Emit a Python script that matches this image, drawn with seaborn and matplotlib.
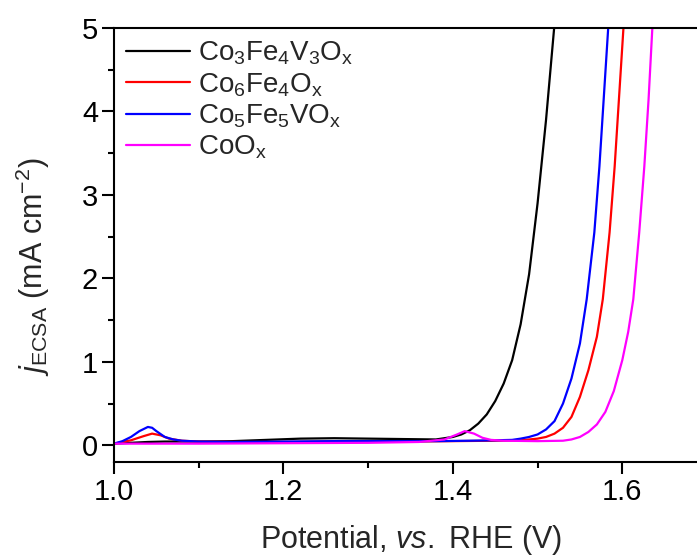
import numpy as np
import pandas as pd
import matplotlib
matplotlib.use("Agg")
import matplotlib.pyplot as plt
from matplotlib.ticker import MultipleLocator
import seaborn as sns

# Linear sweep voltammetry, current normalised by ECSA
labels = [r"$\mathregular{Co_3Fe_4V_3O_x}$", r"$\mathregular{Co_6Fe_4O_x}$",
          r"$\mathregular{Co_5Fe_5VO_x}$", r"$\mathregular{CoO_x}$"]
colors = ["#000000", "#ff0000", "#0000ff", "#ff00ff"]

v_co3fe4v3 = [1.000, 1.020, 1.040, 1.060, 1.080, 1.100, 1.140, 1.180, 1.220, 1.260,
              1.300, 1.340, 1.380, 1.400, 1.410, 1.420, 1.430, 1.440, 1.450, 1.460,
              1.470, 1.480, 1.490, 1.500, 1.510, 1.520]
j_co3fe4v3 = [0.02, 0.03, 0.04, 0.045, 0.045, 0.045, 0.05, 0.065, 0.08, 0.085,
              0.08, 0.075, 0.07, 0.10, 0.13, 0.18, 0.26, 0.37, 0.53, 0.74,
              1.02, 1.45, 2.05, 2.90, 3.90, 5.05]

v_co6fe4 = [1.000, 1.020, 1.035, 1.045, 1.055, 1.065, 1.080, 1.100, 1.150, 1.200,
            1.250, 1.300, 1.350, 1.400, 1.450, 1.480, 1.500, 1.510, 1.520, 1.530,
            1.540, 1.550, 1.560, 1.570, 1.577, 1.585, 1.591, 1.596, 1.602]
j_co6fe4 = [0.02, 0.06, 0.11, 0.14, 0.12, 0.08, 0.055, 0.045, 0.04, 0.04,
            0.045, 0.045, 0.045, 0.05, 0.055, 0.06, 0.08, 0.10, 0.14, 0.21,
            0.34, 0.58, 0.90, 1.30, 1.75, 2.55, 3.34, 4.14, 5.10]

v_co5fe5v = [1.000, 1.010, 1.020, 1.030, 1.040, 1.045, 1.050, 1.060, 1.070, 1.080,
             1.100, 1.140, 1.200, 1.260, 1.320, 1.380, 1.420, 1.450, 1.470, 1.480,
             1.490, 1.500, 1.510, 1.520, 1.530, 1.540, 1.550, 1.558, 1.567, 1.573,
             1.578, 1.584]
j_co5fe5v = [0.02, 0.05, 0.10, 0.17, 0.22, 0.21, 0.17, 0.10, 0.07, 0.055,
             0.045, 0.04, 0.045, 0.05, 0.05, 0.05, 0.055, 0.06, 0.065, 0.08,
             0.10, 0.13, 0.19, 0.29, 0.50, 0.80, 1.22, 1.75, 2.55, 3.34,
             4.14, 5.10]

v_coo = [1.000, 1.100, 1.200, 1.300, 1.360, 1.390, 1.405, 1.414, 1.425, 1.435,
         1.445, 1.460, 1.500, 1.530, 1.540, 1.550, 1.560, 1.570, 1.580, 1.590,
         1.600, 1.607, 1.613, 1.620, 1.626, 1.631, 1.636]
j_coo = [0.02, 0.02, 0.025, 0.03, 0.04, 0.07, 0.13, 0.17, 0.14, 0.09,
         0.065, 0.055, 0.05, 0.055, 0.07, 0.10, 0.16, 0.25, 0.40, 0.65,
         1.02, 1.36, 1.75, 2.55, 3.34, 4.14, 5.10]

series = [(v_co3fe4v3, j_co3fe4v3), (v_co6fe4, j_co6fe4),
          (v_co5fe5v, j_co5fe5v), (v_coo, j_coo)]
df = pd.concat(
    [pd.DataFrame({"E": v, "j": j, "sample": lab}) for lab, (v, j) in zip(labels, series)],
    ignore_index=True,
)

sns.set_theme(style="ticks")
plt.rcParams["font.family"] = ["Liberation Sans", "DejaVu Sans"]
plt.rcParams["mathtext.fontset"] = "custom"
plt.rcParams["mathtext.rm"] = "Liberation Sans"
plt.rcParams["mathtext.it"] = "Liberation Sans:italic"
plt.rcParams["mathtext.bf"] = "Liberation Sans:bold"

fig = plt.figure(figsize=(6.97, 5.58), dpi=100)
ax = fig.add_axes([114 / 697, 1 - 462 / 558, (707 - 114) / 697, (462 - 28) / 558])

sns.lineplot(data=df, x="E", y="j", hue="sample", palette=colors, sort=False,
             estimator=None, linewidth=1.6, ax=ax, legend=True)

ax.set_xlim(1.0, 1.7)
ax.set_ylim(-0.2, 5.0)
ax.xaxis.set_minor_locator(MultipleLocator(0.1))
ax.yaxis.set_major_locator(MultipleLocator(1))
ax.yaxis.set_minor_locator(MultipleLocator(0.5))
ax.set_xticks([1.0, 1.2, 1.4, 1.6])
ax.set_xticklabels(["1.0", "1.2", "1.4", "1.6"])

ax.tick_params(which="major", direction="out", length=8.5, width=1.5, labelsize=21,
               colors="black", pad=3)
ax.tick_params(which="minor", direction="out", length=4.3, width=1.5, colors="black")
ax.tick_params(top=False, right=False, which="both")

for side in ["left", "bottom", "top", "right"]:
    ax.spines[side].set_linewidth(1.5)
    ax.spines[side].set_color("black")

ax.set_xlabel(r"Potential, $\mathit{vs.}$ RHE (V)", fontsize=22, labelpad=12)
ax.set_ylabel(r"$\mathit{j}_{\mathrm{ECSA}}$ (mA cm$^{-2}$)", fontsize=22)
ax.yaxis.set_label_coords(-0.105, 0.45)

handles, _ = ax.get_legend_handles_labels()
ax.legend(handles, labels, loc="upper left", frameon=False, fontsize=20,
          handlelength=2.3, handletextpad=0.3, labelspacing=0.14,
          borderaxespad=0.0, borderpad=0.42, bbox_to_anchor=(0.0, 1.0))

fig.savefig("out.png", dpi=100)
